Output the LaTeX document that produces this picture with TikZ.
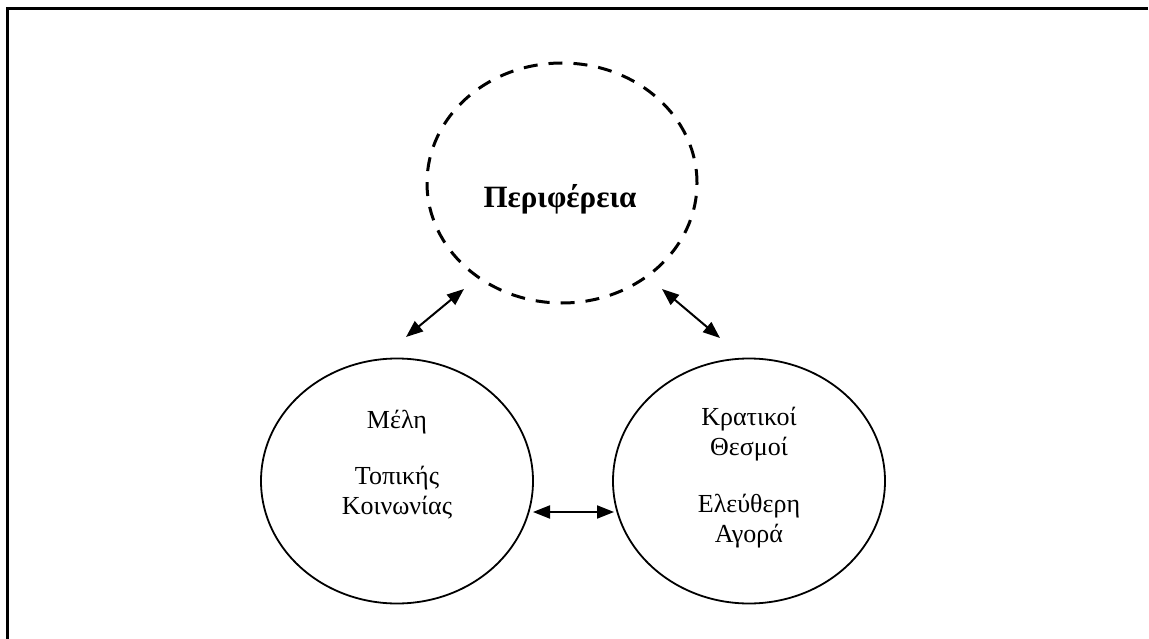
\documentclass[tikz,border=0pt]{standalone}
\usepackage{fontspec}
\setmainfont{Liberation Serif}
\usetikzlibrary{arrows.meta,shapes.geometric}
\begin{document}
\begin{tikzpicture}[x=1pt,y=-1pt,
  frameline/.style={line width=3pt},
  periph/.style={ellipse,draw,line width=3pt,dash pattern=on 14pt off 11pt,minimum width=270pt,minimum height=240pt,inner sep=0pt},
  actor/.style={ellipse,draw,line width=1.8pt,minimum width=272pt,minimum height=245pt,inner sep=0pt},
  actortext/.style={align=center,inner sep=0pt,font=\fontsize{26}{30}\selectfont},
  link/.style={line width=2pt,{Triangle[length=17pt,width=13pt]}-{Triangle[length=17pt,width=13pt]}}
]
\useasboundingbox (0,0) rectangle (1149,639);
\draw[frameline] (7,639) -- (7,9) -- (1148,9);
\node[periph] (top) at (562,183) {};
\node[font=\fontsize{31}{36}\selectfont\bfseries,anchor=base] (toplabel) at (560,208) {Περιφέρεια};
\node[actor] (left) at (397,481) {};
\node[actor] (right) at (749,481) {};
\node[actortext] (lefttext) at (397,465) {Μέλη\\[26pt]Τοπικής\\Κοινωνίας};
\node[actortext] (righttext) at (749,478) {Κρατικοί\\Θεσμοί\\[27pt]Ελεύθερη\\Αγορά};
\coordinate (a1) at (406,337);
\coordinate (a2) at (464,289);
\coordinate (b1) at (662,289);
\coordinate (b2) at (720,338);
\coordinate (c1) at (533,512);
\coordinate (c2) at (614,512);
\draw[link] (a1) -- (a2);
\draw[link] (b1) -- (b2);
\draw[link] (c1) -- (c2);
\end{tikzpicture}
\end{document}
